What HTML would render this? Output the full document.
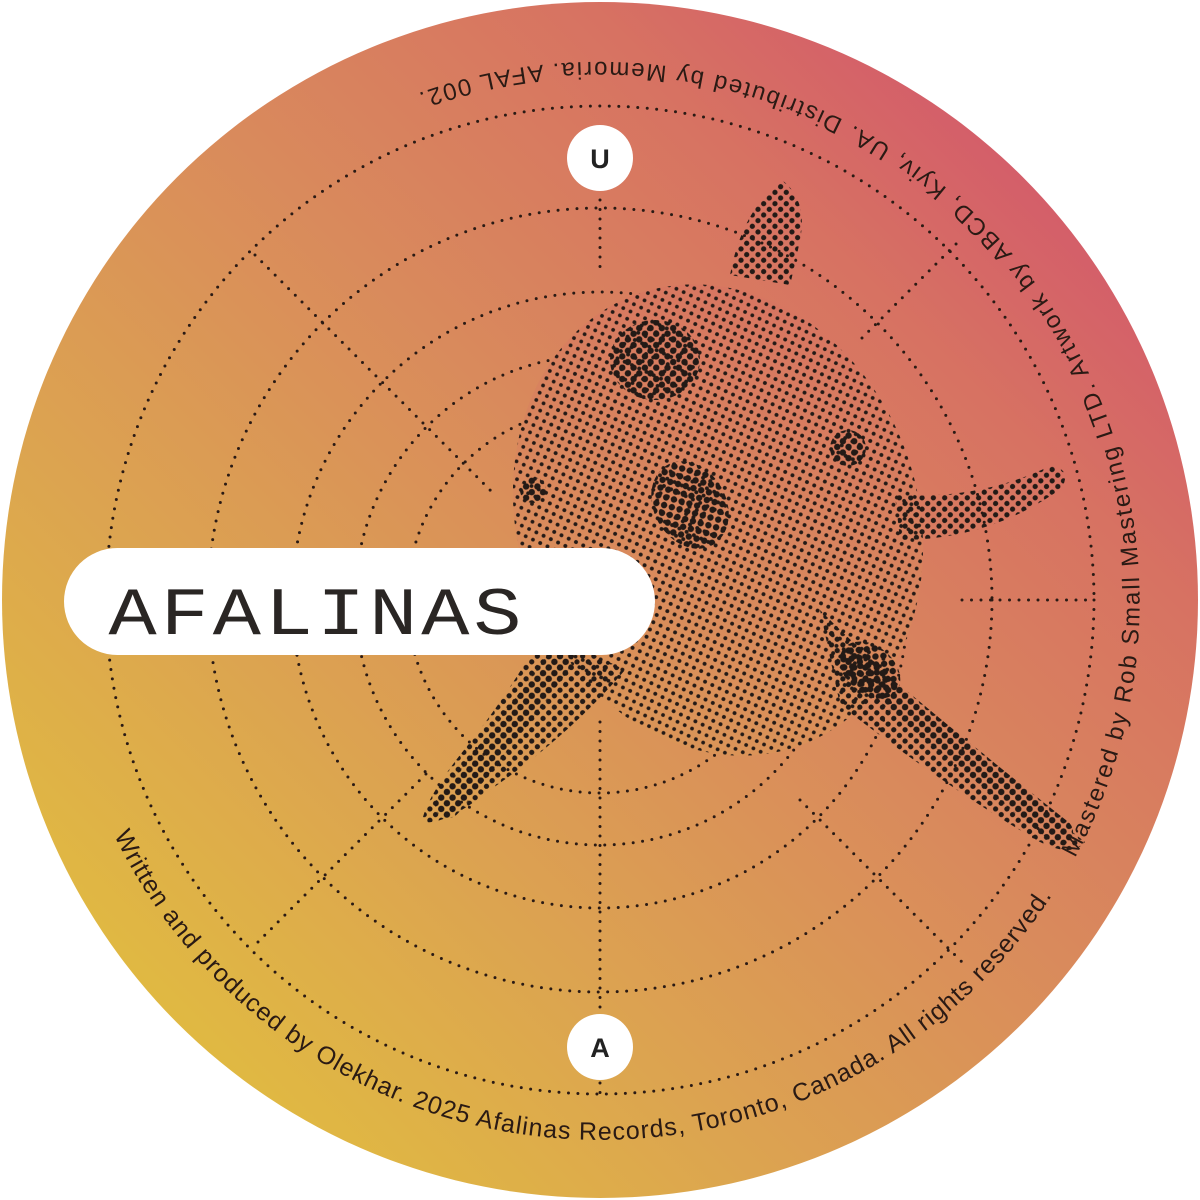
<!DOCTYPE html>
<html><head><meta charset="utf-8"><style>
html,body{margin:0;padding:0;background:#fff;}
svg{display:block;}
</style></head><body>
<svg width="1200" height="1200" viewBox="0 0 1200 1200" xmlns="http://www.w3.org/2000/svg">
<defs>
  <linearGradient id="bg" gradientUnits="userSpaceOnUse" x1="80" y1="1120" x2="1120" y2="80">
    <stop offset="0" stop-color="#e2c23c"/>
    <stop offset="0.3" stop-color="#dca450"/>
    <stop offset="0.55" stop-color="#d98a5c"/>
    <stop offset="0.78" stop-color="#d77262"/>
    <stop offset="1" stop-color="#d2506f"/>
  </linearGradient>
  <pattern id="ds" width="8" height="8" patternUnits="userSpaceOnUse" patternTransform="rotate(45)">
    <circle cx="4" cy="4" r="1.9" fill="#231a16"/>
  </pattern>
  <pattern id="dm" width="8" height="8" patternUnits="userSpaceOnUse" patternTransform="rotate(45)">
    <circle cx="4" cy="4" r="2.6" fill="#231a16"/>
  </pattern>
  <pattern id="db" width="8" height="8" patternUnits="userSpaceOnUse" patternTransform="rotate(45)">
    <circle cx="4" cy="4" r="3.2" fill="#231a16"/>
  </pattern>
  <clipPath id="disc"><circle cx="600" cy="600" r="598"/></clipPath>
  <path id="topArc" d="M 1075 858 A 540 540 0 0 0 416 94"/>
  <path id="botArc" d="M 114 835 A 540 540 0 0 0 1063 878"/>
</defs>

<circle cx="600" cy="600" r="598" fill="url(#bg)"/>

<g fill="none" stroke="#2a1a14" stroke-width="3" stroke-linecap="round" stroke-dasharray="0 9.5" clip-path="url(#disc)">
  <circle cx="600" cy="600" r="494"/>
  <circle cx="600" cy="600" r="392"/>
  <circle cx="600" cy="600" r="308"/>
  <circle cx="600" cy="600" r="245"/>
  <circle cx="600" cy="600" r="193"/>
  <line x1="600" y1="200" x2="600" y2="268"/>
  <line x1="600" y1="722" x2="600" y2="1094"/>
  <line x1="962" y1="600" x2="1094" y2="600"/>
  <line x1="255" y1="255" x2="495" y2="495"/>
  <line x1="258" y1="942" x2="430" y2="770"/>
  <line x1="800" y1="800" x2="962" y2="962"/>
  <line x1="862" y1="338" x2="962" y2="238"/>
</g>

<g clip-path="url(#disc)">
  <ellipse cx="718" cy="520" rx="200" ry="240" fill="url(#bg)" transform="rotate(-20 718 520)"/>
  <ellipse cx="718" cy="520" rx="200" ry="240" fill="url(#ds)" transform="rotate(-20 718 520)"/>
  <ellipse cx="718" cy="520" rx="180" ry="215" fill="url(#ds)" opacity="0.5" transform="rotate(-20 718 520)"/>
  <path d="M730 275 Q742 210 782 180 Q808 200 800 240 Q795 265 790 285 Z" fill="url(#dm)"/>
  <path d="M895 495 Q980 500 1050 466 Q1072 468 1062 488 Q990 540 900 540 Z" fill="url(#dm)"/>
  <path d="M545 630 Q505 700 460 755 Q425 800 422 822 Q445 826 490 790 Q570 735 625 670 Z" fill="url(#dm)"/>
  <path d="M560 660 Q505 735 448 805" stroke="url(#db)" stroke-width="26" fill="none" stroke-linecap="round"/>
  <path d="M820 610 Q900 690 985 755 Q1050 815 1085 842 Q1072 858 1040 842 Q950 790 840 705 Z" fill="url(#dm)"/>
  <path d="M850 660 Q950 745 1060 832" stroke="url(#db)" stroke-width="26" fill="none" stroke-linecap="round"/>
  <ellipse cx="655" cy="360" rx="45" ry="40" fill="url(#db)"/>
  <ellipse cx="690" cy="505" rx="36" ry="46" fill="url(#db)" transform="rotate(-30 690 505)"/>
  <ellipse cx="848" cy="448" rx="18" ry="18" fill="url(#db)"/>
  <ellipse cx="533" cy="490" rx="13" ry="13" fill="url(#db)"/>
  <ellipse cx="870" cy="670" rx="34" ry="24" fill="url(#db)" transform="rotate(40 870 670)"/>
</g>

<text font-family="'Liberation Sans', sans-serif" font-size="24" fill="#2a1a14">
  <textPath href="#topArc" textLength="1300" lengthAdjust="spacing">Mastered by Rob Small Mastering LTD. Artwork by ABCD, Kyiv, UA. Distributed by Memoria. AFAL 002.</textPath>
</text>
<text font-family="'Liberation Sans', sans-serif" font-size="25" fill="#2a1a14">
  <textPath href="#botArc" textLength="1140" lengthAdjust="spacing">Written and produced by Olekhar. 2025 Afalinas Records, Toronto, Canada. All rights reserved.</textPath>
</text>

<circle cx="600" cy="158" r="33" fill="#fff"/>
<text x="600" y="168" text-anchor="middle" font-family="'Liberation Sans', sans-serif" font-weight="bold" font-size="27" fill="#222">U</text>
<circle cx="600" cy="1047" r="33" fill="#fff"/>
<text x="600" y="1057" text-anchor="middle" font-family="'Liberation Sans', sans-serif" font-weight="bold" font-size="27" fill="#222">A</text>

<rect x="64" y="548" width="591" height="107" rx="53.5" fill="#fff"/>
<text transform="scale(1.18 1)" x="92" y="634" font-family="'Liberation Mono', monospace" font-size="68" fill="#2a2624" textLength="350" lengthAdjust="spacing">AFALINAS</text>
</svg>
</body></html>
